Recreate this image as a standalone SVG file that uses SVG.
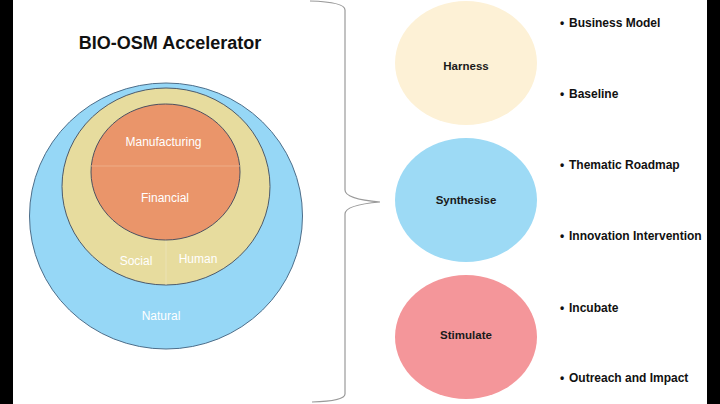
<svg xmlns="http://www.w3.org/2000/svg" width="720" height="404" viewBox="0 0 720 404">
<style>
.lbl{font-family:"Liberation Sans",Arial,sans-serif;font-size:12px;fill:#ffffff;text-anchor:middle}
.stage{font-family:"Liberation Sans",Arial,sans-serif;font-size:11.5px;font-weight:bold;fill:#1a1a1a;text-anchor:middle}
.bul{font-family:"Liberation Sans",Arial,sans-serif;font-size:12px;font-weight:bold;fill:#111111}
.div{stroke:#f3e9c8;stroke-width:0.8;opacity:0.7}
</style>
<rect x="0" y="0" width="720" height="404" fill="#ffffff"/>
<rect x="0" y="0" width="13" height="404" fill="#000000"/>
<rect x="707" y="0" width="13" height="404" fill="#000000"/>
<text x="170" y="49" text-anchor="middle" font-family="Liberation Sans, Arial, sans-serif" font-size="18" font-weight="bold" fill="#111111">BIO-OSM Accelerator</text>
<g id="natural">
<ellipse cx="166" cy="216" rx="136.5" ry="133" fill="#96d7f6" stroke="#4d6e8a" stroke-width="1"/>
<text class="lbl" x="161" y="320">Natural</text>
</g>
<g id="social-human">
<ellipse cx="166" cy="186.5" rx="104" ry="98.5" fill="#e7dc9e" stroke="#4d5a6a" stroke-width="1"/>
<line class="div" x1="166" y1="240" x2="166" y2="285"/>
<text class="lbl" x="136" y="265">Social</text>
<text class="lbl" x="198" y="263">Human</text>
</g>
<g id="manufacturing-financial">
<ellipse cx="165.5" cy="172" rx="74.5" ry="68" fill="#ea956a" stroke="#4d5060" stroke-width="1"/>
<line x1="91" y1="166" x2="240" y2="166" stroke="#f0b48f" stroke-width="0.8"/>
<text class="lbl" x="163.5" y="146">Manufacturing</text>
<text class="lbl" x="165" y="202">Financial</text>
</g>
<g id="connectors">
<path d="M310 1 Q345 2 345 10 L345 190 Q345 199 380 202 Q345 205 345 214 L345 394 Q345 401 312 402" fill="none" stroke="#9a9a9a" stroke-width="1.2"/>
</g>
<g id="harness">
<ellipse cx="466" cy="63" rx="71" ry="62" fill="#fdf1d6"/>
<text class="stage" x="466" y="70">Harness</text>
</g>
<g id="synthesise">
<ellipse cx="466" cy="200" rx="71" ry="62" fill="#9ddaf5"/>
<text class="stage" x="466" y="204">Synthesise</text>
</g>
<g id="stimulate">
<ellipse cx="466" cy="337" rx="71" ry="62" fill="#f4969a"/>
<text class="stage" x="466" y="339">Stimulate</text>
</g>
<g id="bullets">
<text class="bul" y="26.5"><tspan x="560">•</tspan><tspan x="569">Business Model</tspan></text>
<text class="bul" y="98"><tspan x="560">•</tspan><tspan x="569">Baseline</tspan></text>
<text class="bul" y="169"><tspan x="560">•</tspan><tspan x="569">Thematic Roadmap</tspan></text>
<text class="bul" y="240"><tspan x="560">•</tspan><tspan x="569">Innovation Intervention</tspan></text>
<text class="bul" y="311.5"><tspan x="560">•</tspan><tspan x="569">Incubate</tspan></text>
<text class="bul" y="382"><tspan x="560">•</tspan><tspan x="569">Outreach and Impact</tspan></text>
</g>
</svg>
